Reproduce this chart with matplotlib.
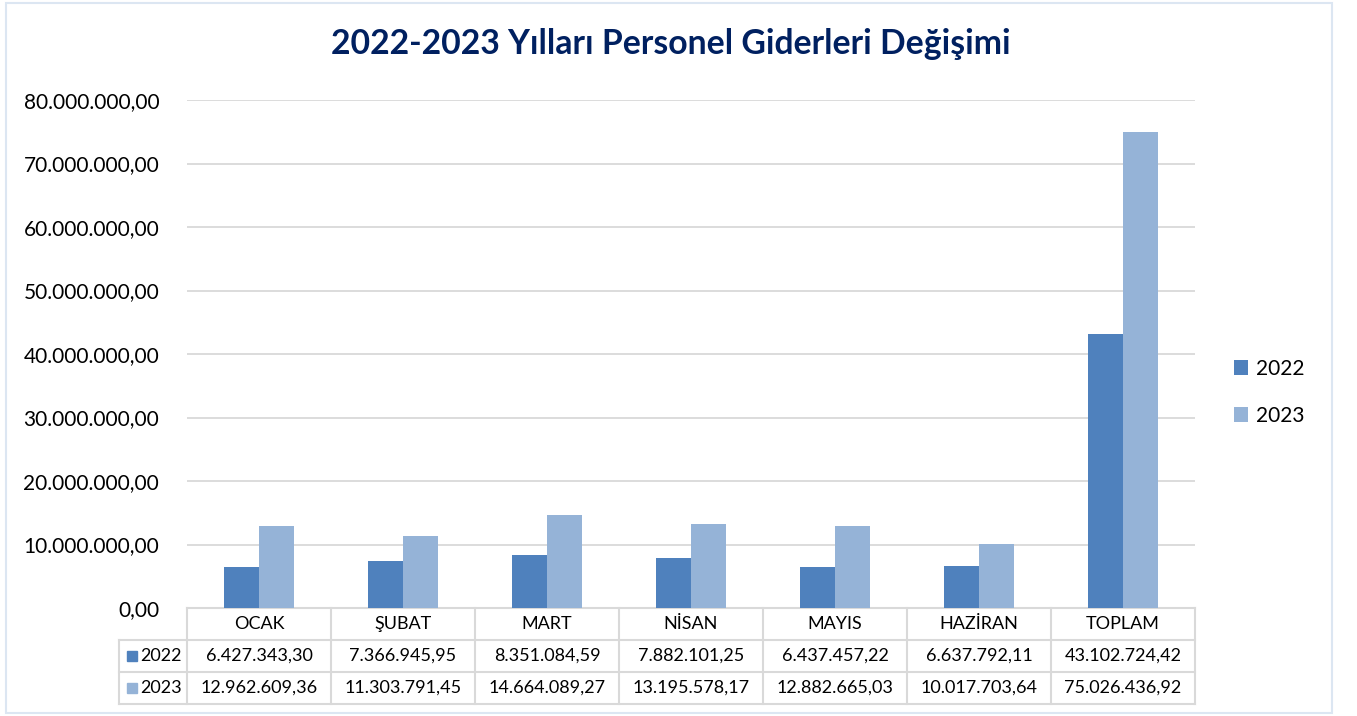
import matplotlib
matplotlib.use("Agg")
import matplotlib.pyplot as plt
from matplotlib.patches import Rectangle
import numpy as np

# data
months = ["OCAK", "ŞUBAT", "MART", "NİSAN", "MAYIS", "HAZİRAN", "TOPLAM"]
years = ["2022", "2023"]
values_2022 = [6427343.30, 7366945.95, 8351084.59, 7882101.25, 6437457.22, 6637792.11, 43102724.42]
values_2023 = [12962609.36, 11303791.45, 14664089.27, 13195578.17, 12882665.03, 10017703.64, 75026436.92]
labels_2022 = ["6.427.343,30", "7.366.945,95", "8.351.084,59", "7.882.101,25", "6.437.457,22", "6.637.792,11", "43.102.724,42"]
labels_2023 = ["12.962.609,36", "11.303.791,45", "14.664.089,27", "13.195.578,17", "12.882.665,03", "10.017.703,64", "75.026.436,92"]
y_ticks = [0, 10e6, 20e6, 30e6, 40e6, 50e6, 60e6, 70e6, 80e6]

c2022 = "#4F81BD"
c2023 = "#95B3D7"
grid_c = "#D9D9D9"
font = "Lato"

plt.rcParams["font.family"] = [font, "DejaVu Sans"]

fig = plt.figure(figsize=(13.57, 7.16), dpi=100)
W, H = 1357, 716
ax = fig.add_axes([187 / W, (H - 608) / H, 1008 / W, 508 / H])

x = np.arange(len(months))
bw = 0.24
ax.bar(x - bw / 2, values_2022, bw, color=c2022, label="2022", zorder=3)
ax.bar(x + bw / 2, values_2023, bw, color=c2023, label="2023", zorder=3)

ax.set_xlim(-0.5, len(months) - 0.5)
ax.set_ylim(0, 80e6)
ax.set_yticks(y_ticks)
ax.set_yticklabels(["{:,.2f}".format(v).replace(",", "X").replace(".", ",").replace("X", ".") for v in y_ticks])
ax.tick_params(axis="y", length=0, pad=20, labelsize=15)
ax.set_xticks([])
ax.grid(axis="y", color=grid_c, linewidth=1.3, zorder=0)
for s in ax.spines.values():
    s.set_visible(False)

fig.text(0.494, 0.938, "2022-2023 Yılları Personel Giderleri Değişimi",
         ha="center", va="center", fontsize=24.3, fontweight="bold", color="#002060")

# data table under the plot
rh = 32 / 508
lab_left = -68 / 1008
trans = ax.transAxes
lw = 1.5
rows = [months, labels_2022, labels_2023]
# horizontal lines
ax.plot([0, 1], [0, 0], transform=trans, color=grid_c, lw=lw, clip_on=False)
for r in range(1, 4):
    ax.plot([lab_left, 1], [-r * rh, -r * rh], transform=trans, color=grid_c, lw=lw, clip_on=False)
# vertical lines
ncol = len(months)
for c in range(ncol + 1):
    xf = c / ncol
    ax.plot([xf, xf], [0, -3 * rh], transform=trans, color=grid_c, lw=lw, clip_on=False)
ax.plot([lab_left, lab_left], [-rh, -3 * rh], transform=trans, color=grid_c, lw=lw, clip_on=False)

for r, row in enumerate(rows):
    yc = -(r + 0.5) * rh
    for c, txt in enumerate(row):
        ax.text((c + 0.5) / ncol, yc, txt, transform=trans, ha="center", va="center",
                fontsize=13, color="#000000")

# row labels with colour keys
for r, (yr, col) in enumerate(zip(years, [c2022, c2023])):
    yc = -(r + 1.5) * rh
    ax.add_patch(Rectangle((lab_left + 8 / 1008, yc - 5 / 508), 10 / 1008, 10 / 508,
                           transform=trans, color=col, clip_on=False))
    ax.text(lab_left + 21 / 1008, yc, yr, transform=trans, ha="left", va="center",
            fontsize=13, color="#000000")

# legend
leg = ax.legend(loc="center left", bbox_to_anchor=(1.02, 0.425), frameon=False,
                fontsize=15, handlelength=0.7, handleheight=0.7, handletextpad=0.35,
                labelspacing=1.3)

# outer frame
fig.patches.append(Rectangle((6 / W, 3 / H), 1326 / W, 710 / H, transform=fig.transFigure,
                             fill=False, edgecolor="#DCE6F2", lw=1.5))

fig.savefig("out.png", dpi=100)
